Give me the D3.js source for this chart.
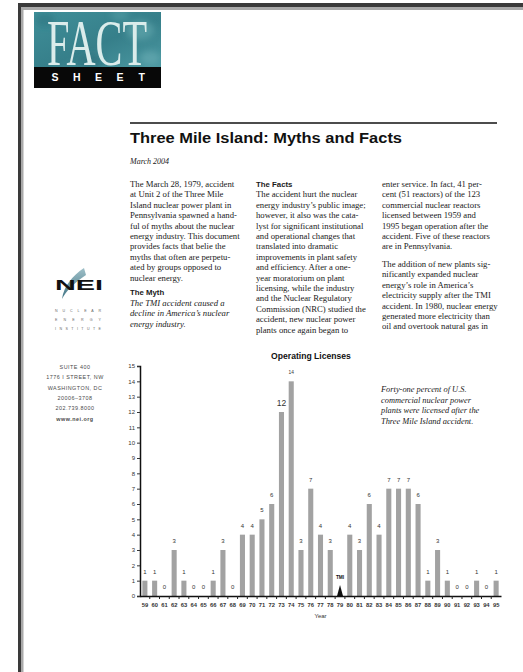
<!DOCTYPE html>
<html>
<head>
<meta charset="utf-8">
<script src="https://cdn.jsdelivr.net/npm/d3@7/dist/d3.min.js"></script>
<style>
  html, body { margin: 0; padding: 0; background: #fff; }
  svg { display: block; }
</style>
</head>
<body>
<svg id="page" width="523" height="672"></svg>
<script>
// ---- Chart data: reactors receiving operating licenses, by year ----
const years = ["59","60","61","62","63","64","65","66","67","68","69","70","71","72","73","74","75","76","77","78",
               "79","80","81","82","83","84","85","86","87","88","89","90","91","92","93","94","95"];
const licenses = [1,1,0,3,1,0,0,1,3,0,4,4,5,6,12,14,3,7,4,3,
                  null,4,3,6,4,7,7,7,6,1,3,1,0,0,1,0,1];
const yTickValues = [0,1,2,3,4,5,6,7,8,9,10,11,12,13,14,15];
const eventYear = "79";
const eventLabel = "TMI";
const chartTitle = "Operating Licenses";
const xAxisTitle = "Year";
const noteLines = ["Forty-one percent of U.S.", "commercial nuclear power", "plants were licensed after the", "Three Mile Island accident."];

// ---- Article text ----
const headline = "Three Mile Island: Myths and Facts";
const dateline = "March 2004";
const col1Lines = ["The March 28, 1979, accident", "at Unit 2 of the Three Mile", "Island nuclear power plant in",
  "Pennsylvania spawned a hand-", "ful of myths about the nuclear", "energy industry. This document",
  "provides facts that belie the", "myths that often are perpetu-", "ated by groups opposed to", "nuclear energy."];
const mythHead = "The Myth";
const mythLines = ["The TMI accident caused a", "decline in America\u2019s nuclear", "energy industry."];
const factsHead = "The Facts";
const col2Lines = ["The accident hurt the nuclear", "energy industry\u2019s public image;", "however, it also was the cata-",
  "lyst for significant institutional", "and operational changes that", "translated into dramatic",
  "improvements in plant safety", "and efficiency. After a one-", "year moratorium on plant",
  "licensing, while the industry", "and the Nuclear Regulatory", "Commission (NRC) studied the",
  "accident, new nuclear power", "plants once again began to"];
const col3aLines = ["enter service. In fact, 41 per-", "cent (51 reactors) of the 123", "commercial nuclear reactors",
  "licensed between 1959 and", "1995 began operation after the", "accident. Five of these reactors", "are in Pennsylvania."];
const col3bLines = ["The addition of new plants sig-", "nificantly expanded nuclear", "energy\u2019s role in America\u2019s",
  "electricity supply after the TMI", "accident. In 1980, nuclear energy", "generated more electricity than",
  "oil and overtook natural gas in"];
const instituteWords = ["NUCLEAR", "ENERGY", "INSTITUTE"];
const addressLines = ["SUITE 400", "1776 I STREET, NW", "WASHINGTON, DC", "20006\u20133708", "202.739.8000", "www.nei.org"];

const svg = d3.select("#page");
const SERIF = "'Liberation Serif', 'Times New Roman', serif";
const SANS = "'Liberation Sans', Arial, sans-serif";

// ---- Page frame ----
svg.append("rect").attr("x", 18).attr("y", 3).attr("width", 505).attr("height", 4).attr("fill", "#3a3a3a");
svg.append("rect").attr("x", 18).attr("y", 7).attr("width", 505).attr("height", 3).attr("fill", "#a9a9a9");
svg.append("rect").attr("x", 18).attr("y", 3).attr("width", 3).attr("height", 669).attr("fill", "#3a3a3a");
svg.append("rect").attr("x", 21).attr("y", 7).attr("width", 2.5).attr("height", 665).attr("fill", "#a9a9a9");

// ---- FACT SHEET masthead ----
const defs = svg.append("defs");
const tg = defs.append("linearGradient").attr("id", "teal").attr("x1", 0).attr("y1", 0).attr("x2", 1).attr("y2", 1);
tg.append("stop").attr("offset", "0%").attr("stop-color", "#3f8f99");
tg.append("stop").attr("offset", "55%").attr("stop-color", "#367f8a");
tg.append("stop").attr("offset", "100%").attr("stop-color", "#4b98a1");
defs.append("clipPath").attr("id", "mastClip").append("rect")
  .attr("x", 34).attr("y", 12).attr("width", 127).attr("height", 55);
defs.append("filter").attr("id", "soft").append("feGaussianBlur").attr("stdDeviation", 3);

svg.append("rect").attr("x", 34).attr("y", 12).attr("width", 127).attr("height", 55).attr("fill", "url(#teal)");
const tex = svg.append("g").attr("clip-path", "url(#mastClip)").attr("filter", "url(#soft)");
[[140, 30, 14, "#5fa5ad", 0.7], [150, 58, 10, "#6aadb4", 0.6], [45, 20, 10, "#2f7480", 0.6],
 [90, 62, 12, "#2c6c77", 0.5], [120, 15, 9, "#58a0a8", 0.5]].forEach(([cx, cy, r, c, o]) => {
  tex.append("ellipse").attr("cx", cx).attr("cy", cy).attr("rx", r).attr("ry", r * 0.7)
     .attr("fill", c).attr("opacity", o);
});
svg.append("text").attr("x", 47).attr("y", 65)
  .attr("font-family", SERIF).attr("font-size", 66)
  .attr("textLength", 100).attr("lengthAdjust", "spacingAndGlyphs")
  .attr("fill", "#dbeceb").text("FACT");
svg.append("rect").attr("x", 34).attr("y", 67).attr("width", 127).attr("height", 21).attr("fill", "#080808");
["S", "H", "E", "E", "T"].forEach((ch, i) => {
  svg.append("text").attr("x", 55 + i * 21.7).attr("y", 81)
    .attr("text-anchor", "middle").attr("font-family", SANS).attr("font-weight", "bold")
    .attr("font-size", 10.5).attr("fill", "#fff").text(ch);
});

// ---- Headline block ----
svg.append("line").attr("x1", 130).attr("x2", 497).attr("y1", 123).attr("y2", 123)
  .attr("stroke", "#111").attr("stroke-width", 1.3);
svg.append("text").attr("x", 130).attr("y", 143)
  .attr("font-family", SANS).attr("font-weight", "bold").attr("font-size", 14)
  .attr("textLength", 272).attr("lengthAdjust", "spacingAndGlyphs")
  .attr("fill", "#111").text(headline);
svg.append("text").attr("x", 130).attr("y", 163.5)
  .attr("font-family", SERIF).attr("font-style", "italic").attr("font-size", 8)
  .attr("fill", "#222").text(dateline);

// ---- Body columns ----
const LH = 10.4;
function textBlock(lines, x, yCenter, opts = {}) {
  const g = svg.append("g");
  lines.forEach((s, i) => {
    g.append("text").attr("x", x).attr("y", yCenter + i * LH + 3)
      .attr("font-family", opts.family || SERIF)
      .attr("font-style", opts.italic ? "italic" : "normal")
      .attr("font-weight", opts.bold ? "bold" : "normal")
      .attr("font-size", opts.size || 8.7)
      .attr("fill", "#1a1a1a").text(s);
  });
}
textBlock(col1Lines, 130, 184);
textBlock([mythHead], 130, 291.5, { family: SANS, bold: true, size: 7.8 });
textBlock(mythLines, 130, 303, { italic: true });
textBlock([factsHead], 256, 184, { family: SANS, bold: true, size: 7.8 });
textBlock(col2Lines, 256, 194.4);
textBlock(col3aLines, 382, 184);
textBlock(col3bLines, 382, 264);

// ---- Side panel: NEI logo and address ----
const swoosh = defs.append("linearGradient").attr("id", "sw").attr("x1", 0).attr("y1", 0).attr("x2", 0).attr("y2", 1);
swoosh.append("stop").attr("offset", "0%").attr("stop-color", "#9fc0c8");
swoosh.append("stop").attr("offset", "100%").attr("stop-color", "#3f7384");
svg.append("path").attr("d", "M84,268 C72,276 64,286 62,299 C66,291 74,283 86,275 Z")
  .attr("fill", "url(#sw)");
svg.append("text").attr("x", 55).attr("y", 290)
  .attr("font-family", SANS).attr("font-weight", "bold").attr("font-size", 14)
  .attr("textLength", 48).attr("lengthAdjust", "spacingAndGlyphs")
  .attr("fill", "#111").text("NEI");
instituteWords.forEach((w, i) => {
  svg.append("text").attr("x", 55).attr("y", 311.5 + i * 9.3)
    .attr("font-family", SANS).attr("font-size", 3.6)
    .attr("textLength", 46).attr("lengthAdjust", "spacing")
    .attr("fill", "#666").text(w.split("").join(" "));
});
addressLines.forEach((s, i) => {
  svg.append("text").attr("x", 75).attr("y", 369 + i * 10.3)
    .attr("text-anchor", "middle").attr("font-family", SANS).attr("font-size", 5.4)
    .attr("letter-spacing", 0.5)
    .attr("font-weight", i === 5 ? "bold" : "normal")
    .attr("fill", "#4a4a4a").text(s);
});

// ---- Bar chart ----
const x = d3.scaleBand().domain(years).range([140, 501]).paddingInner(0.48).paddingOuter(0.24);
const y = d3.scaleLinear().domain([0, 15]).range([596, 366]);

svg.append("text").attr("x", 311).attr("y", 359)
  .attr("text-anchor", "middle").attr("font-family", SANS).attr("font-weight", "bold")
  .attr("font-size", 8.6).attr("fill", "#111").text(chartTitle);

const data = years.map((yr, i) => ({ yr, v: licenses[i] }));

svg.append("g").selectAll("rect").data(data.filter(d => d.v !== null)).join("rect")
  .attr("x", d => x(d.yr)).attr("width", x.bandwidth())
  .attr("y", d => y(d.v)).attr("height", d => y(0) - y(d.v))
  .attr("fill", "#a2a2a2");

svg.append("g").selectAll("text").data(data.filter(d => d.v !== null)).join("text")
  .attr("x", d => x(d.yr) + x.bandwidth() / 2)
  .attr("y", d => y(d.v) - (d.v === 12 ? 6 : 7))
  .attr("text-anchor", "middle").attr("font-family", SANS)
  .attr("font-size", d => d.v === 12 ? 8.5 : (d.v === 14 ? 4.8 : 6))
  .attr("fill", "#333").text(d => d.v);

// y axis
const yAxis = d3.axisLeft(y).tickValues(yTickValues).tickSize(3).tickPadding(2);
const gy = svg.append("g").attr("transform", "translate(140,0)").call(yAxis);
gy.select(".domain").attr("stroke", "#111").attr("stroke-width", 1.5);
gy.selectAll(".tick line").attr("stroke", "#333");
gy.selectAll(".tick text").attr("font-family", SANS).attr("font-size", 6).attr("fill", "#333");

// x axis
const xAxis = d3.axisBottom(x).tickSize(0).tickPadding(7);
const gx = svg.append("g").attr("transform", "translate(0,596)").call(xAxis);
gx.select(".domain").attr("stroke", "#111").attr("stroke-width", 1.5);
gx.selectAll(".tick text").attr("font-family", SANS).attr("font-size", 5.8)
  .attr("font-weight", "bold").attr("fill", "#333");
// boundary tick marks between years
svg.append("g").selectAll("line").data(years.slice(1)).join("line")
  .attr("x1", d => x(d) - x.step() * x.paddingInner() / 2)
  .attr("x2", d => x(d) - x.step() * x.paddingInner() / 2)
  .attr("y1", 596).attr("y2", 599).attr("stroke", "#222").attr("stroke-width", 1);

svg.append("text").attr("x", 320.5).attr("y", 618)
  .attr("text-anchor", "middle").attr("font-family", SANS).attr("font-size", 6)
  .attr("fill", "#333").text(xAxisTitle);

// TMI event marker
const ex = x(eventYear) + x.bandwidth() / 2;
svg.append("path")
  .attr("d", `M${ex - 3},${y(0)} L${ex},${y(0) - 11} L${ex + 3},${y(0)} Z`).attr("fill", "#111");
svg.append("text").attr("x", ex).attr("y", y(0) - 17)
  .attr("text-anchor", "middle").attr("font-family", SANS).attr("font-weight", "bold")
  .attr("font-size", 4.8).attr("fill", "#111").text(eventLabel);

// annotation
noteLines.forEach((s, i) => {
  svg.append("text").attr("x", 381).attr("y", 392 + i * 10.6)
    .attr("font-family", SERIF).attr("font-style", "italic").attr("font-size", 8.4)
    .attr("fill", "#1a1a1a").text(s);
});
</script>
</body>
</html>
